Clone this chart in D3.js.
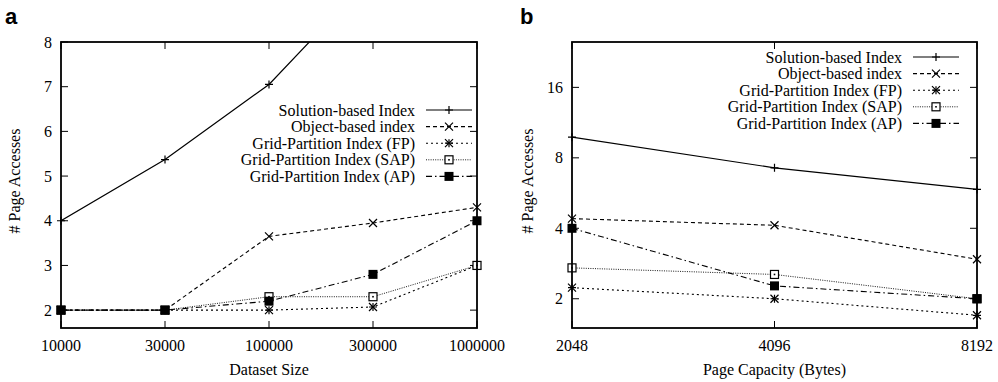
<!DOCTYPE html>
<meta charset="utf-8">
<script src="https://d3js.org/d3.v7.min.js"></script>
<style>
    body { margin: 0; background: white; }
    svg { display: block; }
    text { font-family: "Liberation Serif", "Times New Roman", serif; fill: #000; font-size: 16px; }
</style>
<body>
<script>
    // ---- data ----
    var seriesNames = ["Solution-based Index", "Object-based index", "Grid-Partition Index (FP)",
        "Grid-Partition Index (SAP)", "Grid-Partition Index (AP)"];

    // panel a : dataset size
    var sizesA = ["10000", "30000", "100000", "300000", "1000000"];
    var solutionA = [4, 5.37, 7.05, 9.5, 12];
    var objectA = [2, 2, 3.65, 3.95, 4.3];
    var fpA = [2, 2, 2, 2.07, 3];
    var sapA = [2, 2, 2.3, 2.3, 3];
    var apA = [2, 2, 2.2, 2.8, 4];
    var yTicksA = [2, 3, 4, 5, 6, 7, 8];

    // panel b : page capacity
    var capsB = ["2048", "4096", "8192"];
    var solutionB = [9.8, 7.25, 5.86];
    var objectB = [4.4, 4.12, 2.95];
    var fpB = [2.23, 2, 1.7];
    var sapB = [2.71, 2.54, 2.0];
    var apB = [4, 2.27, 2];
    var yTicksB = [2, 4, 8, 16];

    var dashes = [null, "4,3", "2,3", "1,1.3", "6,3,1.5,3"];
    var widths = [1.2, 1.1, 1.1, 0.9, 1.1];
    var markers = ["plus", "cross", "star", "openSquare", "fillSquare"];

    var svg = d3.select("body").append("svg")
        .attr("width", 998)
        .attr("height", 382);

    function drawMarker(g, type, x, y) {
        var s = 4;
        if (type === "plus" || type === "star") {
            g.append("path").attr("d", "M" + (x - s) + "," + y + "H" + (x + s) + "M" + x + "," + (y - s) + "V" + (y + s))
                .attr("stroke", "#000").attr("stroke-width", 1.2);
        }
        if (type === "cross" || type === "star") {
            g.append("path").attr("d", "M" + (x - s) + "," + (y - s) + "L" + (x + s) + "," + (y + s) +
                "M" + (x - s) + "," + (y + s) + "L" + (x + s) + "," + (y - s))
                .attr("stroke", "#000").attr("stroke-width", 1.2);
        }
        if (type === "openSquare") {
            g.append("rect").attr("x", x - 4).attr("y", y - 4).attr("width", 8).attr("height", 8)
                .attr("fill", "white").attr("stroke", "#000").attr("stroke-width", 1.2);
            g.append("rect").attr("x", x - 0.8).attr("y", y - 0.8).attr("width", 1.6).attr("height", 1.6).attr("fill", "#000");
        }
        if (type === "fillSquare") {
            g.append("rect").attr("x", x - 4.5).attr("y", y - 4.5).attr("width", 9).attr("height", 9)
                .attr("fill", "#000");
        }
    }

    function panel(opt) {
        var g = svg.append("g");
        var x = d3.scalePoint().domain(opt.cats).range([opt.left, opt.right]).padding(0);
        var y = opt.y;
        var top = 42, bottom = 328;

        var clipId = "clip" + opt.id;
        svg.append("clipPath").attr("id", clipId).append("rect")
            .attr("x", opt.left).attr("y", top).attr("width", opt.right - opt.left).attr("height", bottom - top);

        // ticks (inward on all four sides)
        opt.cats.forEach(function (c) {
            g.append("line").attr("x1", x(c)).attr("x2", x(c)).attr("y1", bottom).attr("y2", bottom - 7).attr("stroke", "#000");
            g.append("line").attr("x1", x(c)).attr("x2", x(c)).attr("y1", top).attr("y2", top + 7).attr("stroke", "#000");
            g.append("text").attr("x", x(c)).attr("y", 351).attr("text-anchor", "middle").text(c);
        });
        opt.yTicks.forEach(function (t) {
            g.append("line").attr("x1", opt.left).attr("x2", opt.left + 7).attr("y1", y(t)).attr("y2", y(t)).attr("stroke", "#000");
            g.append("line").attr("x1", opt.right).attr("x2", opt.right - 7).attr("y1", y(t)).attr("y2", y(t)).attr("stroke", "#000");
            g.append("text").attr("x", opt.left - 9).attr("y", y(t)).attr("dy", "0.35em").attr("text-anchor", "end").text(t);
        });

        // series
        var lines = g.append("g").attr("clip-path", "url(#" + clipId + ")");
        opt.series.forEach(function (vals, i) {
            var line = d3.line()
                .x(function (d, j) { return x(opt.cats[j]); })
                .y(function (d) { return y(d); });
            lines.append("path").attr("d", line(vals))
                .attr("fill", "none").attr("stroke", "#000")
                .attr("stroke-width", widths[i])
                .attr("stroke-dasharray", dashes[i]);
        });
        opt.series.forEach(function (vals, i) {
            vals.forEach(function (v, j) {
                if (v <= y.domain()[1]) drawMarker(g, markers[i], x(opt.cats[j]), y(v));
            });
        });

        // frame
        g.append("rect").attr("x", opt.left).attr("y", top).attr("width", opt.right - opt.left).attr("height", bottom - top)
            .attr("fill", "none").attr("stroke", "#000").attr("stroke-width", 1.8);

        // legend
        seriesNames.forEach(function (name, i) {
            var ly = opt.legendY + i * 16.6;
            g.append("text").attr("x", opt.legendX).attr("y", ly).attr("dy", "0.35em").attr("text-anchor", "end").text(name);
            g.append("line").attr("x1", opt.legendX + 11).attr("x2", opt.legendX + 57).attr("y1", ly).attr("y2", ly)
                .attr("stroke", "#000").attr("stroke-width", widths[i]).attr("stroke-dasharray", dashes[i]);
            drawMarker(g, markers[i], opt.legendX + 34, ly);
        });

        // axis titles
        g.append("text").attr("x", (opt.left + opt.right) / 2).attr("y", 375).attr("text-anchor", "middle").text(opt.xTitle);
        g.append("text").attr("transform", "translate(" + opt.yTitleX + ",181) rotate(-90)")
            .attr("text-anchor", "middle").text("# Page Accesses");

        g.append("text").attr("x", opt.letterX).attr("y", 24)
            .style("font-family", "Liberation Sans, Arial, sans-serif").style("font-weight", "bold")
            .style("font-size", "22px").text(opt.id);
    }

    panel({
        id: "a", cats: sizesA, left: 61, right: 477,
        y: d3.scaleLinear().domain([1.6, 8]).range([328, 42]),
        yTicks: yTicksA,
        series: [solutionA, objectA, fpA, sapA, apA],
        legendX: 415, legendY: 110,
        xTitle: "Dataset Size", yTitleX: 20, letterX: 5
    });

    panel({
        id: "b", cats: capsB, left: 572, right: 977,
        y: d3.scaleLog().base(2).domain([1.5, 25]).range([328, 42]),
        yTicks: yTicksB,
        series: [solutionB, objectB, fpB, sapB, apB],
        legendX: 902, legendY: 57,
        xTitle: "Page Capacity (Bytes)", yTitleX: 533, letterX: 520
    });
</script>
</body>
